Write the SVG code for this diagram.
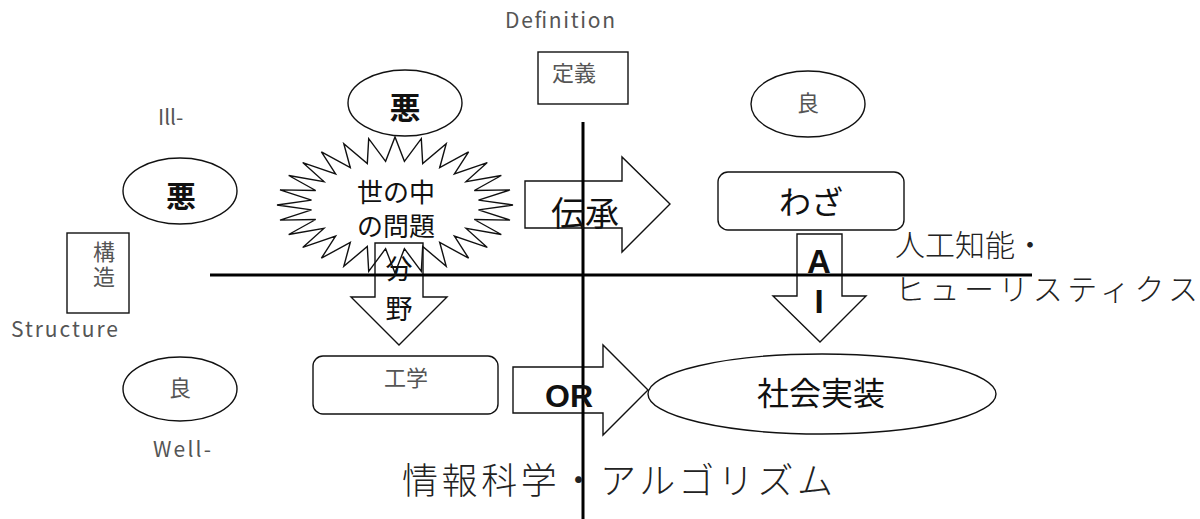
<svg xmlns="http://www.w3.org/2000/svg" width="1200" height="519" viewBox="0 0 1200 519">
<style>
.shape{fill:#fff;stroke:#111;stroke-width:1.4}
.open{fill:none;stroke:#111;stroke-width:1.4}
.axis{stroke:#000;stroke-width:3;fill:none}
.jp{font-family:"Noto Sans CJK JP","Noto Sans",sans-serif;text-anchor:middle}
.jps{font-family:"Noto Sans CJK JP","Noto Sans",sans-serif;text-anchor:start;font-weight:300;fill:#222}
.vert{writing-mode:vertical-rl;letter-spacing:3px}
.gray{fill:#555}
.dark{fill:#111}
.bold{font-weight:bold}
.lat{font-family:"Noto Sans CJK JP","Noto Sans","Liberation Sans",sans-serif;fill:#555;font-size:21px}
.en{font-family:"Liberation Sans",Arial,sans-serif;font-weight:bold;fill:#111;text-anchor:middle}
</style>
<rect width="1200" height="519" fill="#fff"/>

<g id="label-definition"><text class="lat" x="505" y="28" textLength="110" lengthAdjust="spacing">Definition</text></g>
<g id="node-teigi">
  <rect class="shape" x="538" y="52" width="90" height="52"/>
  <text class="jp gray" x="574" y="81" font-size="22">定義</text>
</g>
<g id="label-ill"><text class="lat" x="158" y="125">Ill-</text></g>
<g id="label-structure"><text class="lat" x="11" y="337" textLength="107" lengthAdjust="spacing">Structure</text></g>
<g id="label-well"><text class="lat" x="153" y="457" textLength="58" lengthAdjust="spacing">Well-</text></g>

<g id="node-aku-top">
  <ellipse class="shape" cx="405" cy="103" rx="57" ry="33"/>
  <text class="jp dark bold" x="405" y="119" font-size="31">悪</text>
</g>
<g id="node-aku-left">
  <ellipse class="shape" cx="180" cy="191" rx="57" ry="33"/>
  <text class="jp dark bold" x="181" y="207" font-size="30">悪</text>
</g>
<g id="node-kouzou">
  <rect class="shape" x="67" y="233" width="62" height="80"/>
  <text class="jp gray vert" x="104" y="266" font-size="22">構造</text>
</g>
<g id="node-ryou-left">
  <ellipse class="shape" cx="180" cy="389" rx="57" ry="32"/>
  <text class="jp gray" x="180" y="396" font-size="22">良</text>
</g>
<g id="node-ryou-right">
  <ellipse class="shape" cx="808" cy="104" rx="57" ry="33"/>
  <text class="jp gray" x="808" y="111" font-size="22">良</text>
</g>

<g id="node-problem">
  <polygon class="shape" points="513,205 478.5,209.9 510,220.1 474.3,219.5 501.3,234.5 466.1,228.4 487.3,247.4 454.4,236.1 468.6,258.2 439.7,242.3 446.2,266.3 422.7,246.5 421.3,271.3 404.4,248.7 395,273 385.6,248.7 368.7,271.3 367.3,246.5 343.8,266.3 350.3,242.3 321.4,258.2 335.6,236.1 302.7,247.4 323.9,228.4 288.7,234.5 315.7,219.5 280,220.1 311.5,209.9 277,205 311.5,200.1 280,189.9 315.7,190.5 288.7,175.5 323.9,181.6 302.7,162.6 335.6,173.9 321.4,151.8 350.3,167.7 343.8,143.7 367.3,163.5 368.7,138.7 385.6,161.3 395,137 404.4,161.3 421.3,138.7 422.7,163.5 446.2,143.7 439.7,167.7 468.6,151.8 454.4,173.9 487.3,162.6 466.1,181.6 501.3,175.5 474.3,190.5 510,189.9 478.5,200.1"/>
  <text class="jp dark" x="396" y="202" font-size="26">世の中</text>
  <text class="jp dark" x="396" y="236" font-size="26">の問題</text>
</g>

<g id="node-waza">
  <rect class="shape" x="718" y="172" width="186" height="58" rx="10"/>
  <text class="jp dark" x="811" y="214" font-size="32">わざ</text>
</g>
<g id="node-kougaku">
  <rect class="shape" x="313" y="356" width="185" height="58" rx="10"/>
  <text class="jp gray" x="406" y="386" font-size="22">工学</text>
</g>
<g id="node-shakai">
  <ellipse class="shape" cx="822" cy="394" rx="174" ry="40"/>
  <text class="jp dark" x="821" y="405" font-size="32">社会実装</text>
</g>

<g id="connectors">
  <g id="arrow-densho">
    <polygon class="shape" points="525,181 622,181 622,157 670,204 622,252 622,228 525,228"/>
  </g>
  <g id="arrow-bunya">
    <polygon class="open" points="375,243 423,243 423,297 447,297 399,345 351,297 375,297"/>
  </g>
  <g id="arrow-ai">
    <polygon class="shape" points="797,234 842,234 842,296 866,296 820,342 773,296 797,296"/>
  </g>
  <g id="arrow-or">
    <polygon class="shape" points="513,367 603,367 603,345 648,390 603,435 603,413 513,413"/>
  </g>
</g>

<g id="axes">
  <line class="axis" x1="210" y1="275" x2="1032" y2="275"/>
  <line class="axis" x1="583" y1="122" x2="583" y2="519"/>
</g>

<g id="arrow-labels">
  <text class="jp dark" x="585" y="226" font-size="34">伝承</text>
  <text class="jp dark" x="399" y="279" font-size="27">分</text>
  <text class="jp dark" x="399" y="319" font-size="27">野</text>
  <text class="en" x="819" y="273" font-size="33">A</text>
  <text class="en" x="819" y="313" font-size="33">I</text>
  <text class="en" x="569" y="407" font-size="32">OR</text>
</g>

<g id="label-ai-heuristics">
  <text class="jps" x="895" y="256" font-size="30" textLength="150" lengthAdjust="spacing">人工知能・</text>
  <text class="jps" x="895" y="300" font-size="30" textLength="303" lengthAdjust="spacing">ヒューリスティクス</text>
</g>
<g id="label-infosci">
  <text class="jps" x="402" y="494" font-size="36" textLength="431" lengthAdjust="spacing">情報科学・アルゴリズム</text>
</g>
</svg>
